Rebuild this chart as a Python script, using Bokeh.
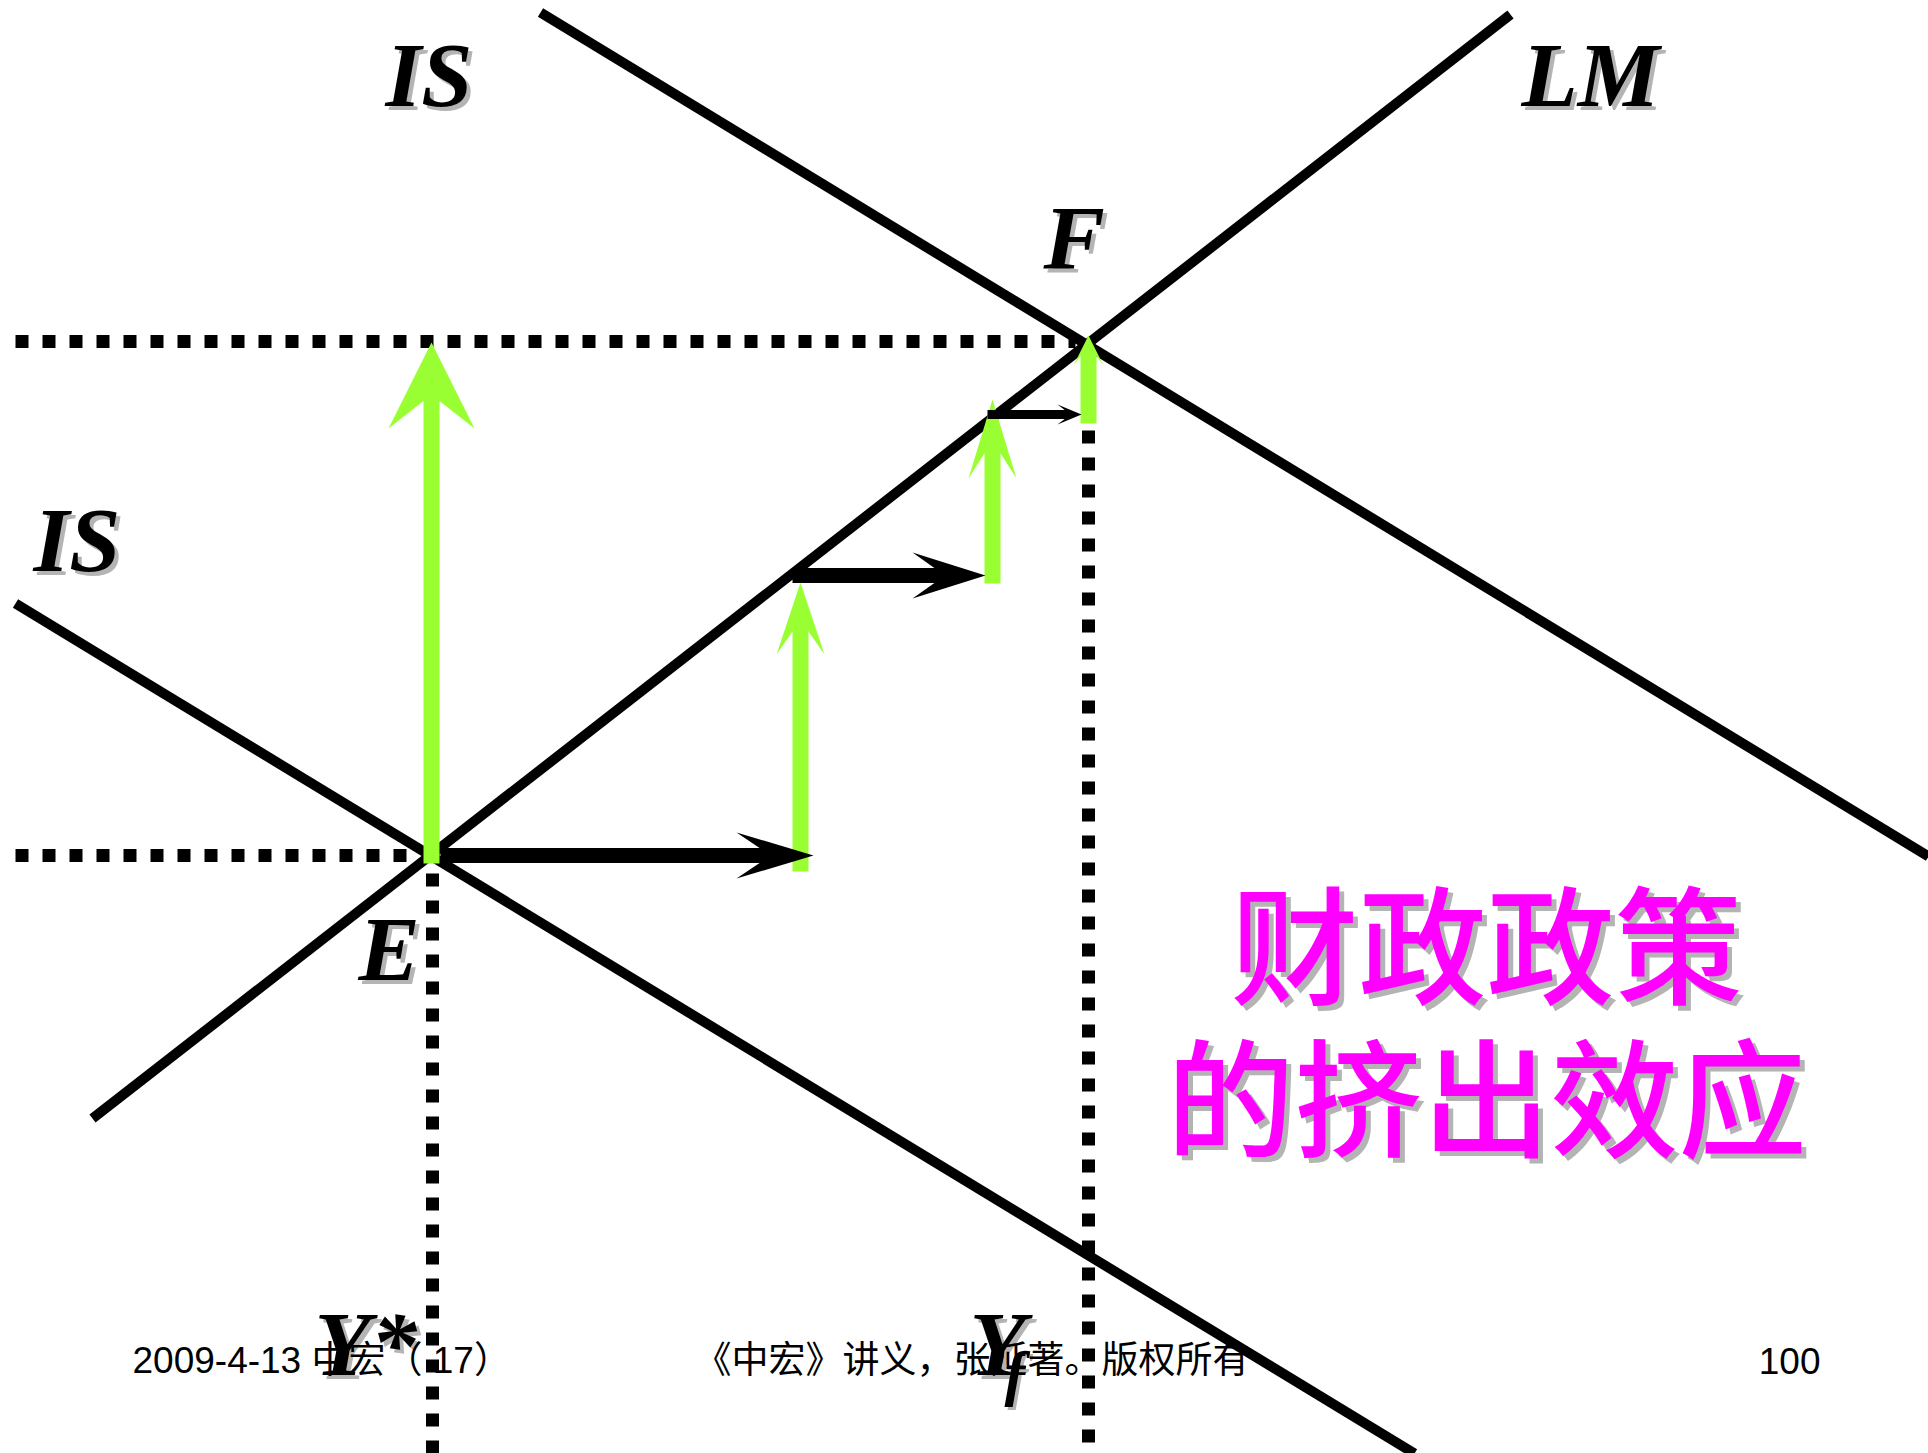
from bokeh.plotting import figure
from bokeh.models import Range1d, ColumnDataSource
from bokeh.core.properties import value
from bokeh.embed import file_html
from bokeh.resources import INLINE

# ---------------- data (diagram units: output Y to the right, interest rate r upward)
Y_E, r_E = 424, 590      # point E
Y_F, r_F = 1080, 1104    # point F

curve_names = ["IS", "IS'", "LM"]
curve_x = [[7, 1406], [532, 1920], [84, 1502]]
curve_y = [[842, -8], [1433, 589], [327, 1431]]

# dotted guide lines
guide_x = [[7, 403], [7, 1067], [Y_E, Y_E], [Y_F, Y_F]]
guide_y = [[r_E, r_E], [r_F, r_F], [572, -8], [1015, -8]]

# green (interest-rate) arrows: x, base, tip
green_x = [423, 792, 984, 1080]
green_base = [582, 574, 862, 1022]
green_tip = [1103, 863, 1046, 1110]
green_head_len = [86, 72, 79, 30]
green_head_hw = [43, 24, 24, 15]

# black (output) arrows: y, start, tip
black_y = [590, 870, 1031]
black_start = [432, 784, 979]
black_tip = [805, 977, 1073]
black_head_len = [77, 73, 24]
black_head_hw = [23, 23, 10]
black_shaft_w = [15, 15, 9]

# labels
label_text = ["IS", "IS", "LM", "F", "E", "Y*", "Y"]
label_x = [377, 25, 1513, 1035, 350, 306, 961]
label_y = [1371, 906, 1371, 1208, 497, 102, 102]
sub_text = ["f"]
sub_x = [996]
sub_y = [73]

title_lines = ["财政政策", "的挤出效应"]
title_x = [1478, 1478]
title_y = [506, 353]

footer_text = ["2009-4-13  中宏（ 17）", "《中宏》讲义，张延著。版权所有", "100"]
footer_x = [124, 686, 1812]
footer_y = [85, 85, 85]
footer_align = ["left", "left", "right"]

# ---------------- figure
W, H = 1928, 1453
p = figure(width=W, height=H, x_range=Range1d(-8, W - 8), y_range=Range1d(-8, H - 8),
           output_backend="svg", toolbar_location=None, min_border=0)
p.axis.visible = False
p.grid.visible = False
p.outline_line_color = None
p.background_fill_color = "white"
p.border_fill_color = "white"

GREEN = "#99FF33"
SHADOW = "#B4B4B4"

# curves
p.multi_line(xs=curve_x, ys=curve_y, line_color="black", line_width=10, line_cap="butt")

# dotted guides
p.multi_line(xs=guide_x, ys=guide_y, line_color="black", line_width=13,
             line_dash="13 14", line_cap="butt")

# green arrows
SW = 16
for x, b, t, L, Hh in zip(green_x, green_base, green_tip, green_head_len, green_head_hw):
    N = 0.68 * L
    p.segment(x0=[x], y0=[b], x1=[x], y1=[t - N + 2], line_color=GREEN, line_width=SW, line_cap="butt")
    px = [x, x + Hh, x + SW / 2, x - SW / 2, x - Hh]
    py = [t, t - L, t - N, t - N, t - L]
    p.patch(px, py, fill_color=GREEN, line_color=None)

# black arrows
for y, s, t, L, Hh, sw in zip(black_y, black_start, black_tip, black_head_len, black_head_hw, black_shaft_w):
    N = 0.70 * L
    p.segment(x0=[s], y0=[y], x1=[t - N + 2], y1=[y], line_color="black", line_width=sw, line_cap="butt")
    px = [t, t - L, t - N, t - N, t - L]
    py = [y, y + Hh, y + sw / 2, y - sw / 2, y - Hh]
    p.patch(px, py, fill_color="black", line_color=None)

# italic labels with drop shadow
lab = ColumnDataSource(dict(text=label_text, x=label_x, y=label_y,
                            xs=[v + 4 for v in label_x], ys=[v - 4 for v in label_y]))
for xc, yc, col in (("xs", "ys", SHADOW), ("x", "y", "black")):
    p.text(x=xc, y=yc, text="text", source=lab, text_color=col,
           text_font=value("Liberation Serif"), text_font_style="bold italic",
           text_font_size="92px", text_baseline="middle", text_align="left")
sub = ColumnDataSource(dict(text=sub_text, x=sub_x, y=sub_y,
                            xs=[v + 3 for v in sub_x], ys=[v - 3 for v in sub_y]))
for xc, yc, col in (("xs", "ys", SHADOW), ("x", "y", "black")):
    p.text(x=xc, y=yc, text="text", source=sub, text_color=col,
           text_font=value("Liberation Serif"), text_font_style="bold italic",
           text_font_size="62px", text_baseline="middle", text_align="left")

# title
tit = ColumnDataSource(dict(text=title_lines, x=title_x, y=title_y,
                            xs=[v + 5 for v in title_x], ys=[v - 5 for v in title_y]))
for xc, yc, col in (("xs", "ys", SHADOW), ("x", "y", "#FF00FF")):
    p.text(x=xc, y=yc, text="text", source=tit, text_color=col,
           text_font=value("Noto Sans CJK SC Medium, Noto Sans CJK SC"), text_font_style="normal",
           text_font_size="128px", text_baseline="middle", text_align="center")

# footer
foot = ColumnDataSource(dict(text=footer_text, x=footer_x, y=footer_y, align=footer_align))
p.text(x="x", y="y", text="text", source=foot, text_color="black",
       text_font=value("Liberation Sans, Noto Sans CJK SC"), text_font_size="37px",
       text_baseline="middle", text_align="align")

open("out.html", "w").write(file_html(p, INLINE))
